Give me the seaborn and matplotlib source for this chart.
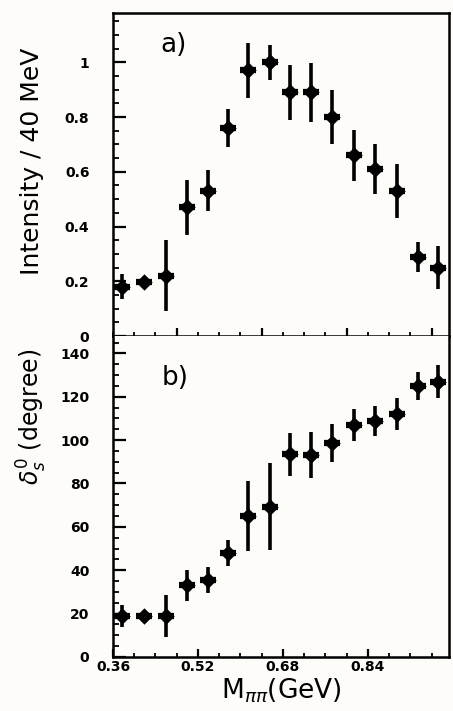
import matplotlib
matplotlib.use("Agg")
import matplotlib.pyplot as plt
import seaborn as sns
import pandas as pd
from matplotlib.ticker import MultipleLocator

# ---- data ----
mass = [0.377, 0.418, 0.460, 0.500, 0.538, 0.576, 0.614, 0.655,
        0.694, 0.732, 0.773, 0.814, 0.853, 0.894, 0.934, 0.972]
intensity = [0.18, 0.197, 0.22, 0.47, 0.53, 0.76, 0.97, 1.00,
             0.89, 0.89, 0.80, 0.66, 0.61, 0.53, 0.29, 0.25]
intensity_err = [0.045, 0.01, 0.13, 0.10, 0.075, 0.07, 0.10, 0.064,
                 0.10, 0.107, 0.10, 0.094, 0.09, 0.10, 0.055, 0.08]
phase = [18.9, 18.9, 19.0, 33.0, 35.5, 47.8, 65.0, 69.3,
         93.5, 93.0, 98.8, 106.9, 109.0, 112.0, 125.0, 127.0]
phase_err = [5.0, 1.0, 9.6, 7.3, 5.8, 6.0, 16.0, 20.0,
             10.0, 10.7, 8.8, 7.3, 6.9, 7.5, 6.4, 7.7]
x_ticks = [0.36, 0.52, 0.68, 0.84]

df = pd.DataFrame({"m": mass, "I": intensity, "dI": intensity_err,
                   "d": phase, "dd": phase_err})

sns.set_theme(style="ticks")
plt.rcParams['font.family'] = ['DejaVu Sans']
plt.rcParams['text.color'] = 'black'
plt.rcParams['axes.labelcolor'] = 'black'
plt.rcParams['xtick.color'] = 'black'
plt.rcParams['ytick.color'] = 'black'
bg = '#fdfcf9'

fig = plt.figure(figsize=(4.53, 7.11), dpi=100, facecolor=bg)
W, H = 453, 711
L, R = 113, 449
ax1 = fig.add_axes([L / W, (H - 336) / H, (R - L) / W, (336 - 13) / H])
ax2 = fig.add_axes([L / W, (H - 657) / H, (R - L) / W, (657 - 336) / H])

for ax, ycol, ecol in [(ax1, "I", "dI"), (ax2, "d", "dd")]:
    ax.set_facecolor(bg)
    ax.errorbar(df["m"], df[ycol], yerr=df[ecol], fmt='none',
                ecolor='black', elinewidth=2.6, capsize=0, zorder=2)
    ax.errorbar(df["m"], df[ycol], xerr=0.015, fmt='none',
                ecolor='black', elinewidth=4.5, capsize=0, zorder=2)
    sns.scatterplot(data=df, x="m", y=ycol, ax=ax, color='black', marker='D',
                    s=70, edgecolor='black', linewidth=0, zorder=3, legend=False)
    ax.set_xlim(0.36, 0.9925)
    ax.xaxis.set_major_locator(MultipleLocator(0.16))
    ax.xaxis.set_minor_locator(MultipleLocator(0.04))
    for sp in ax.spines.values():
        sp.set_linewidth(1.8)
        sp.set_color('black')
    ax.tick_params(axis='y', which='major', direction='in', length=9.5, width=1.6,
                   labelsize=10, pad=17)
    ax.tick_params(axis='y', which='minor', direction='in', length=4.5, width=1.3)
    ax.tick_params(axis='x', which='major', direction='in', length=6, width=1.6,
                   labelsize=10, pad=2)
    ax.tick_params(axis='x', which='minor', direction='in', length=3, width=1.3)

# top panel
ax1.set_ylim(0, 1.18)
ax1.yaxis.set_minor_locator(MultipleLocator(0.05))
ax1.set_yticks([0, 0.2, 0.4, 0.6, 0.8, 1.0])
ax1.set_yticklabels(['0', '0.2', '0.4', '0.6', '0.8', '1'], fontweight='bold')
ax1.tick_params(axis='x', which='both', labelbottom=False)
ax1.set_xlabel('')
ax1.set_ylabel('Intensity / 40 MeV', fontsize=18)
ax1.text(0.18, 0.90, 'a)', transform=ax1.transAxes, fontsize=19,
         ha='center', va='center')

# bottom panel
ax2.set_ylim(0, 148)
ax2.set_yticks([0, 20, 40, 60, 80, 100, 120, 140])
ax2.set_yticklabels([str(v) for v in [0, 20, 40, 60, 80, 100, 120, 140]],
                    fontweight='bold')
ax2.yaxis.set_minor_locator(MultipleLocator(5))
ax2.set_xticks(x_ticks)
ax2.set_xticklabels([f'{v:.2f}' for v in x_ticks], fontweight='bold')
ax2.set_ylabel(r'$\delta^0_s$ (degree)', fontsize=17)
ax2.set_xlabel(r'M$_{\pi\pi}$(GeV)', fontsize=19, labelpad=2)
ax2.text(0.185, 0.87, 'b)', transform=ax2.transAxes, fontsize=19,
         ha='center', va='center')
ax2.spines['top'].set_visible(False)

ax1.yaxis.set_label_coords(-0.205, 0.54)
ax2.yaxis.set_label_coords(-0.19, 0.75)

fig.savefig('out.png', dpi=100, facecolor=bg)
